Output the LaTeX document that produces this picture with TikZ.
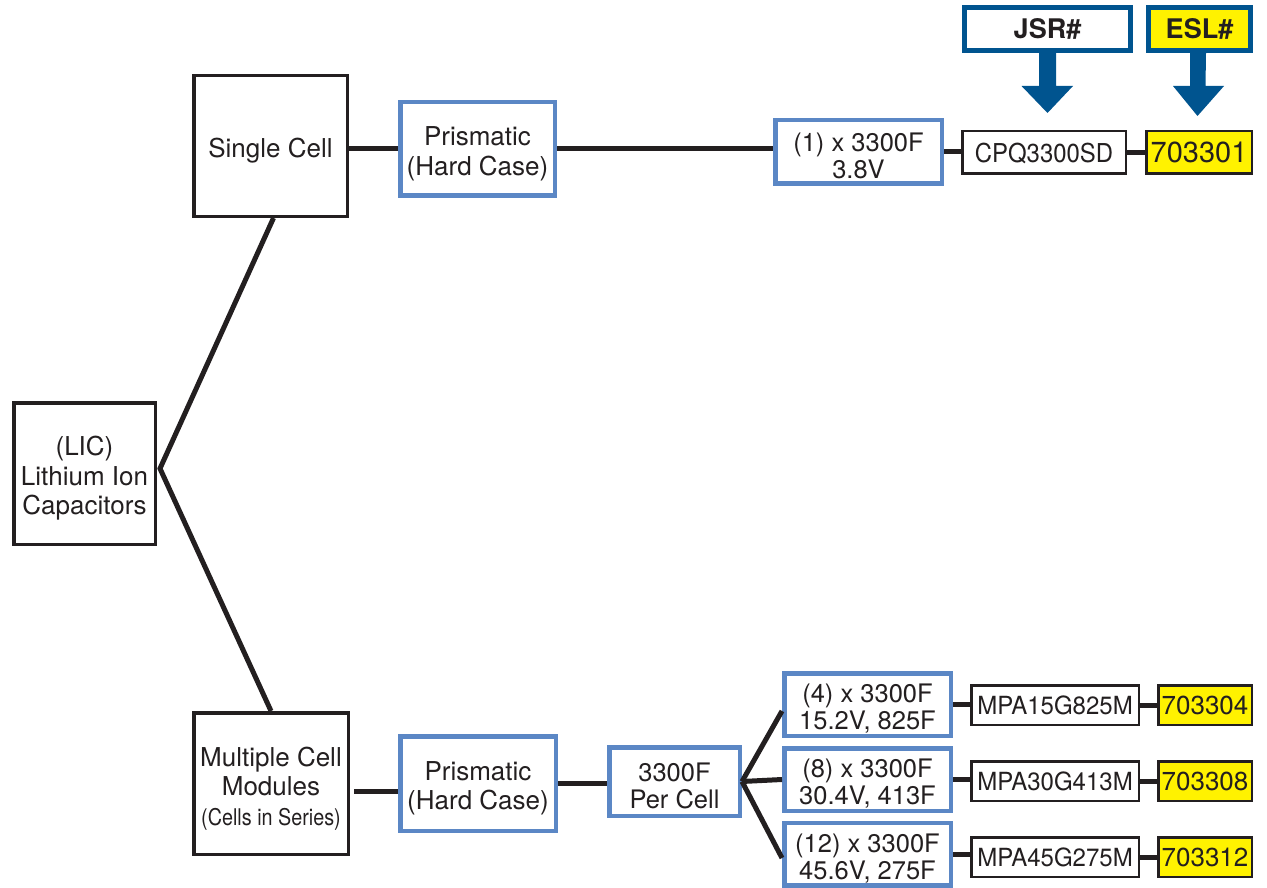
\documentclass[tikz,border=0pt]{standalone}
\usepackage{fontspec}
\usepackage{graphicx}
\setmainfont{TeX Gyre Heros}
\usetikzlibrary{calc}
\definecolor{ink}{HTML}{231F20}
\definecolor{lblue}{HTML}{5B87C5}
\definecolor{dblue}{HTML}{00548F}
\definecolor{ylw}{HTML}{FFF200}
\newcommand{\lowstrut}{\rule{0pt}{29pt}}
\newcommand{\smstrut}{\rule{0pt}{27pt}}
\tikzset{
 base/.style={inner sep=0pt, align=center, text=ink, font=\fontsize{26}{29.5}\selectfont},
 blk/.style={base, draw=ink, line width=3.5pt},
 blu/.style={base, draw=lblue, line width=4.5pt, fill=white},
 blus/.style={blu, font=\fontsize{25.5}{27}\selectfont},
 part/.style={base, draw=ink, line width=2.5pt, font=\fontsize{25}{28}\selectfont},
 esl/.style={part, fill=ylw},
 hdr/.style={base, draw=dblue, line width=5pt, font=\bfseries\fontsize{27}{30}\selectfont},
 link/.style={draw=ink, line width=5pt},
 bigarrow/.style={fill=dblue, draw=none},
}
\begin{document}
\begin{tikzpicture}[x=1pt,y=-1pt]
\useasboundingbox (0,0) rectangle (1267,888);
% left side
\node[blk, minimum width=141.5, minimum height=141.5] (lic) at (84.5,473.5) {\lowstrut(LIC)\\Lithium Ion\\Capacitors};
\node[blk, minimum width=153.5, minimum height=140.5] (sc) at (270.5,146) {\lowstrut Single Cell};
\node[blk, minimum width=154.5, minimum height=141.5] (mc) at (271,783.5) {\lowstrut Multiple Cell\\Modules\\{\fontsize{23}{26}\selectfont\scalebox{0.86}[1]{(Cells in Series)}}};
% top row
\node[blu, minimum width=154.5, minimum height=93.5] (pt) at (477.5,149) {\lowstrut Prismatic\\(Hard Case)};
\node[blus, minimum width=166.5, minimum height=63.5] (c1) at (858.5,152) {\smstrut(1) x 3300F\\3.8V};
\node[part, minimum width=163.5, minimum height=42.5] (cpq) at (1044,152.5) {\rule{0pt}{21pt}\scalebox{0.92}[1]{\fontsize{26}{28}\selectfont CPQ3300SD}};
\node[esl, minimum width=105.5, minimum height=42.5, font=\fontsize{29}{30}\selectfont] (e1) at (1199,152.5) {703301};
\node[hdr, minimum width=166, minimum height=43, fill=white] (jsr) at (1047.5,29) {JSR\#};
\node[hdr, minimum width=102, minimum height=43, fill=ylw] (esl) at (1199.5,29) {ESL\#};
% arrows
\fill[bigarrow] ($(jsr.south)+(-8.5,0)$) -- ++(0,33) -- ++(-17.5,0) -- (1047.5,113) -- (1073,86) -- ++(-17,0) -- ($(jsr.south)+(8.5,0)$) -- cycle;
\fill[bigarrow] ($(esl.south)+(-9.5,0)$) -- ++(0,33) -- ++(-17,0) -- (1197.5,116) -- (1224,86) -- ++(-18.5,0) -- ($(esl.south)+(6.5,0)$) -- cycle;
% bottom row
\node[blu, minimum width=155.5, minimum height=94.5] (pb) at (478,783.5) {\lowstrut Prismatic\\(Hard Case)};
\node[blus, minimum width=130.5, minimum height=68.5] (pc) at (674.5,781.5) {\smstrut 3300F\\Per Cell};
\node[blus, minimum width=166.5, minimum height=62.5] (b4) at (867.5,704.5) {\smstrut(4) x 3300F\\15.2V, 825F};
\node[blus, minimum width=166.5, minimum height=62.5] (b8) at (867.5,779.5) {\smstrut(8) x 3300F\\30.4V, 413F};
\node[blus, minimum width=166.5, minimum height=62.5] (b12) at (867.5,854) {\smstrut(12) x 3300F\\45.6V, 275F};
\node[part, minimum width=167.5, minimum height=39.5] (m4) at (1055,705) {\scalebox{0.96}[1]{MPA15G825M}};
\node[part, minimum width=167.5, minimum height=39.5] (m8) at (1055,781) {\scalebox{0.96}[1]{MPA30G413M}};
\node[part, minimum width=167.5, minimum height=39.5] (m12) at (1055,857) {\scalebox{0.96}[1]{MPA45G275M}};
\node[esl, minimum width=93.5, minimum height=39.5, font=\fontsize{26}{28}\selectfont] (e4) at (1205,705) {703304};
\node[esl, minimum width=93.5, minimum height=39.5, font=\fontsize{26}{28}\selectfont] (e8) at (1205,781) {703308};
\node[esl, minimum width=93.5, minimum height=39.5, font=\fontsize{26}{28}\selectfont] (e12) at (1205,857) {703312};
% connectors
\coordinate (fork) at ($(lic.east)+(3,-5)$);
\draw[link] ($(sc.south)+(3,0)$) -- (fork) -- (mc.north);
\draw[link] (pt.west) -- (pt.west -| sc.east);
\draw[link] (pt.east) -- (pt.east -| c1.west);
\draw[link] (c1.east) -- (c1.east -| cpq.west);
\draw[link] (cpq.east) -- (cpq.east -| e1.west);
\coordinate (mcout) at ($(mc.east)+(4,7.5)$);
\draw[link] (mcout) -- (mcout -| pb.west);
\draw[link] (pb.east) -- (pb.east -| pc.west);
\draw[link] (pc.east) -- ($(b4.west)+(0,6.5)$);
\draw[link] (pc.east) -- (b8.west);
\draw[link] (pc.east) -- ($(b12.west)+(0,4)$);
\draw[link] (b4.east) -- (b4.east -| m4.west);
\draw[link] (b8.east) -- (b8.east -| m8.west);
\draw[link] (b12.east) -- (b12.east -| m12.west);
\draw[link] (m4.east) -- (e4.west);
\draw[link] (m8.east) -- (e8.west);
\draw[link] (m12.east) -- (e12.west);
\end{tikzpicture}
\end{document}
